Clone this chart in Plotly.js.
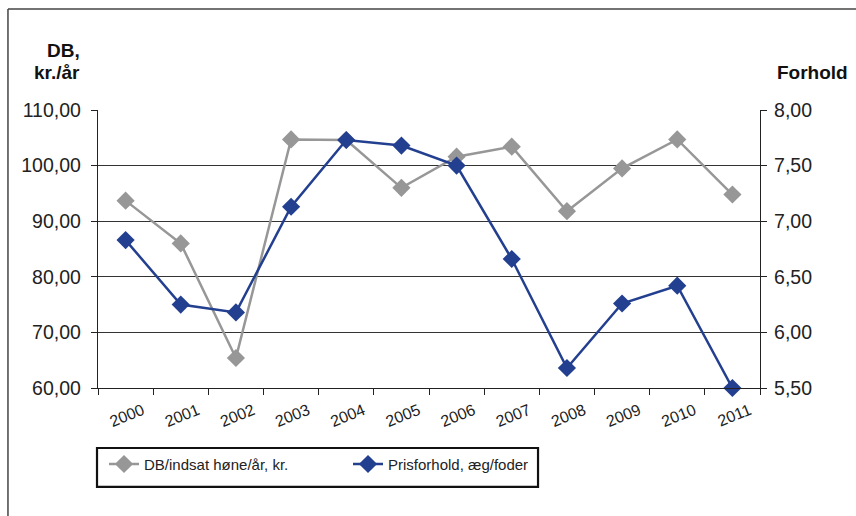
<!DOCTYPE html>
<html>
<head>
<meta charset="utf-8">
<script src="https://cdn.plot.ly/plotly-3.0.1.min.js"></script>
<style>html,body{margin:0;padding:0;background:#fff;}#chart{width:856px;height:516px;}</style>
</head>
<body>
<div id="chart"></div>
<script>
var years = ["2000","2001","2002","2003","2004","2005","2006","2007","2008","2009","2010","2011"];
var dbValues = [93.7, 86.0, 65.4, 104.7, 104.6, 96.0, 101.6, 103.4, 91.8, 99.5, 104.7, 94.8];
var prisValues = [6.83, 6.25, 6.18, 7.13, 7.73, 7.68, 7.50, 6.66, 5.68, 6.26, 6.42, 5.50];
var dbName = "DB/indsat høne/år, kr.";
var prisName = "Prisforhold, æg/foder";
var leftTitleLine1 = "DB,";
var leftTitleLine2 = "kr./år";
var rightTitle = "Forhold";

var font = "Liberation Sans, Arial, sans-serif";
var grey = "#979797";
var blue = "#233f8f";

var traces = [
  {x: years, y: dbValues, name: dbName, type: "scatter", mode: "lines+markers",
   line: {color: grey, width: 2.5}, marker: {symbol: "diamond", size: 14, color: grey}, yaxis: "y", cliponaxis: false},
  {x: years, y: prisValues, name: prisName, type: "scatter", mode: "lines+markers",
   line: {color: blue, width: 2.5}, marker: {symbol: "diamond", size: 14, color: blue}, yaxis: "y2", cliponaxis: false}
];

var layout = {
  width: 856, height: 516,
  margin: {l: 98, r: 96, t: 110, b: 128},
  paper_bgcolor: "#fff", plot_bgcolor: "#fff",
  separators: ",.",
  font: {family: font, size: 16, color: "#222"},
  showlegend: true,
  legend: {orientation: "h", x: -0.003, xanchor: "left", y: -0.215, yanchor: "top",
    bgcolor: "rgba(0,0,0,0)", borderwidth: 0, font: {family: font, size: 15, color: "#222"},
    entrywidth: 191, entrywidthmode: "pixels", traceorder: "normal", itemwidth: 30, indentation: 8},
  xaxis: {type: "category", range: [-0.5, 11.5], tickson: "boundaries", ticks: "outside", ticklen: 6,
    tickcolor: "#222", showline: true, linecolor: "#222", linewidth: 1.2, showgrid: false,
    tickangle: -22, ticklabelstandoff: 6, ticklabelshift: 17,
    tickfont: {family: font, size: 16, color: "#222"}, fixedrange: true},
  yaxis: {range: [60, 110], dtick: 10, tickformat: ".2f", ticks: "outside", ticklen: 6, tickcolor: "#222",
    showline: true, linecolor: "#222", linewidth: 1.2, showgrid: true, gridcolor: "#333", gridwidth: 1,
    zeroline: false, ticklabelstandoff: 6, tickfont: {family: font, size: 19.5, color: "#222"}},
  yaxis2: {range: [5.5, 8], dtick: 0.5, tickformat: ".2f", overlaying: "y", side: "right", ticks: "outside",
    ticklen: 6, tickcolor: "#222", showline: true, linecolor: "#222", linewidth: 1.2, showgrid: false,
    zeroline: false, ticklabelstandoff: 3, tickfont: {family: font, size: 19.5, color: "#222"}},
  annotations: [
    {text: "<b>" + leftTitleLine1 + "</b>", xref: "paper", yref: "paper", x: -0.024, y: 1.168, xanchor: "right", yanchor: "bottom",
     showarrow: false, align: "right", font: {family: font, size: 19, color: "#111"}},
    {text: "<b>" + leftTitleLine2 + "</b>", xref: "paper", yref: "paper", x: -0.024, y: 1.09, xanchor: "right", yanchor: "bottom",
     showarrow: false, align: "right", font: {family: font, size: 19, color: "#111"}},
    {text: "<b>" + rightTitle + "</b>", xref: "paper", yref: "paper", x: 1.022, y: 1.09, xanchor: "left", yanchor: "bottom",
     showarrow: false, align: "left", font: {family: font, size: 19, color: "#111"}}
  ],
  shapes: [
    {type: "line", xref: "paper", yref: "paper", x0: -0.136, x1: 1.2, y0: 1.363, y1: 1.363, line: {color: "#444", width: 1.5}},
    {type: "line", xref: "paper", yref: "paper", x0: -0.136, x1: -0.136, y0: 1.363, y1: -0.47, line: {color: "#444", width: 1.5}},
    {type: "rect", xref: "paper", yref: "paper", x0: -0.0015, x1: 0.6647, y0: -0.2158, y1: -0.356,
     line: {color: "#111", width: 2.2}, fillcolor: "rgba(0,0,0,0)"}
  ]
};

Plotly.newPlot("chart", traces, layout, {displayModeBar: false, staticPlot: true});
</script>
</body>
</html>
